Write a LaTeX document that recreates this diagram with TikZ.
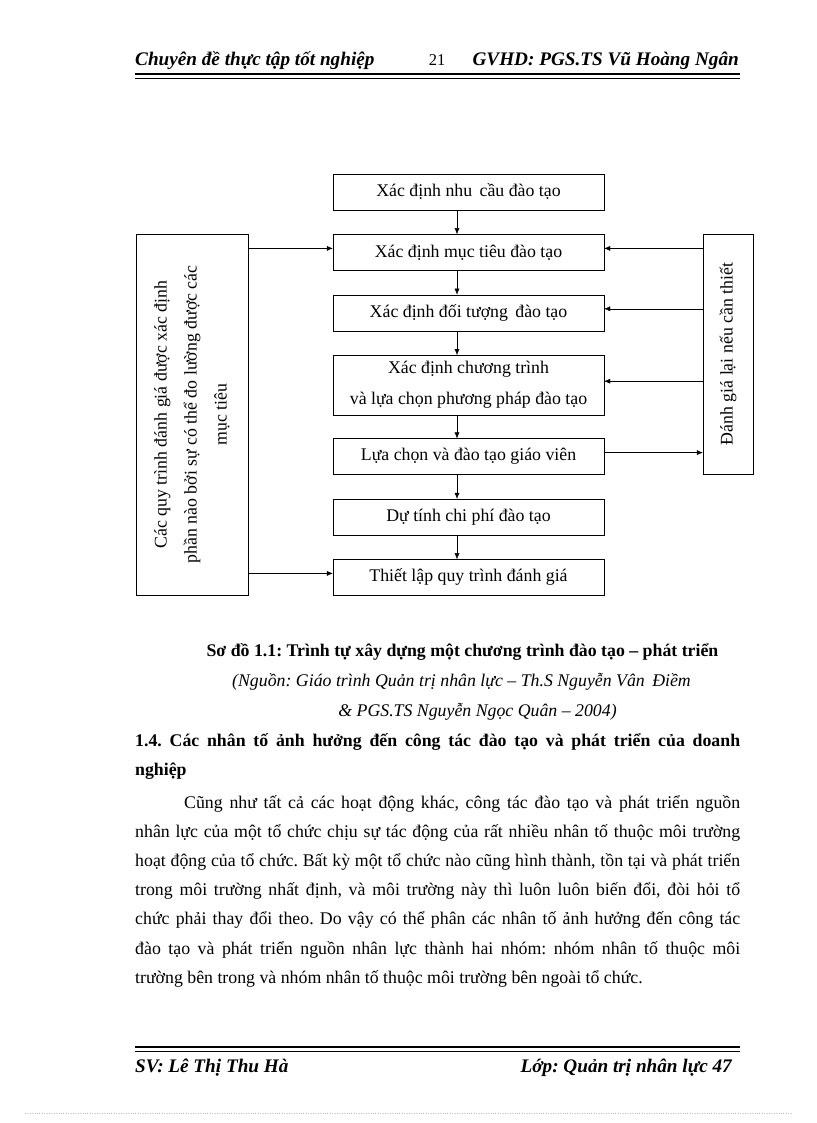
\documentclass[tikz,border=0pt]{standalone}
\usepackage{fontspec}
\setmainfont{Liberation Serif}
\usetikzlibrary{positioning,arrows.meta}
\frenchspacing
\newcommand{\boxWidth}{271pt}
\newcommand{\bodyFont}{\fontsize{17.8}{29.2}\selectfont}
\newcommand{\hdrFont}{\fontsize{19.2}{22}\selectfont\bfseries\itshape}

\begin{document}
\begin{tikzpicture}[x=1pt, y=-1pt, thin, >={Latex[length=6pt,width=5pt]},
    every node/.style={inner sep=0pt},
    stepbox/.style={draw, minimum width=\boxWidth, minimum height=36pt, inner sep=2pt, align=center, font=\fontsize{17.8}{31}\selectfont},
    sidebox/.style={draw, rotate=90, align=center, font=\fontsize{17.8}{30}\selectfont},
    hdrtext/.style={font=\hdrFont},
    rule/.style={line width=2.5pt},
    thinrule/.style={line width=0.8pt}]
  \fill[white] (0,0) rectangle (816,1123);
  \useasboundingbox (0,0) rectangle (816,1123);

  % header
  \node[hdrtext, anchor=base west] (hdrL) at (135,66) {Chuyên đề thực tập tốt nghiệp};
  \node[anchor=base, font=\fontsize{16.5}{18}\selectfont] (hdrN) at (437,66) {21};
  \node[hdrtext, anchor=base east] (hdrR) at (739,66) {GVHD: PGS.TS Vũ Hoàng Ngân};
  \draw[rule] (135,74) -- (740,74);
  \draw[thinrule] (135,78.5) -- (740,78.5);

  % steps
  \node[stepbox] (b1) at (468.5,192) {Xác định nhu\, cầu đào tạo};
  \node[stepbox, below=24pt of b1] (b2) {Xác định mục tiêu đào tạo};
  \node[stepbox, below=24pt of b2] (b3) {Xác định đối tượng\, đào tạo};
  \node[stepbox, minimum height=60pt, below=24pt of b3] (b4) {Xác định chương trình\\ và lựa chọn phương pháp đào tạo};
  \node[stepbox, below=23pt of b4] (b5) {Lựa chọn và đào tạo giáo viên};
  \node[stepbox, below=24pt of b5] (b6) {Dự tính chi phí đào tạo};
  \node[stepbox, below=24pt of b6] (b7) {Thiết lập quy trình đánh giá};

  % side boxes
  \node[sidebox, minimum width=361pt, minimum height=112pt] (eval) at (192,414.5) {Các quy trình đánh giá được xác định\\ phần nào bởi sự có thể đo lường được các\\ mục tiêu};
  \node[sidebox, minimum width=240pt, minimum height=50pt] (review) at (728,354) {Đánh giá lại nếu cần thiết};

  \foreach \a/\b in {b1/b2,b2/b3,b3/b4,b4/b5,b5/b6,b6/b7}
    \draw[->] ([xshift=-11.5pt]\a.south) -- ([xshift=-11.5pt]\b.north);
  \foreach \n in {b2,b7}
    \draw[->] ([yshift=4pt]\n.west -| eval.south) -- ([yshift=4pt]\n.west);
  \foreach \n in {b2,b3,b4}
    \draw[->] ([yshift=4pt]\n.east -| review.north) -- ([yshift=4pt]\n.east);
  \draw[->] ([yshift=4pt]b5.east) -- ([yshift=4pt]b5.east -| review.north);

  % caption
  \node[anchor=base, font=\fontsize{17.8}{20}\selectfont\bfseries] (cap) at (462.5,656) {Sơ đồ 1.1: Trình tự xây dựng một chương trình đào tạo – phát triển};
  \node[anchor=base, font=\fontsize{17.8}{20}\selectfont\itshape] (src1) at (461.5,686) {(Nguồn: Giáo trình Quản trị nhân lực – Th.S Nguyễn Vân\, Điềm};
  \node[anchor=base, font=\fontsize{17.8}{20}\selectfont\itshape] (src2) at (477.5,716) {\& PGS.TS Nguyễn Ngọc Quân – 2004)};

  % text
  \node[anchor=base west, text width=605pt, align=justify, font=\bodyFont\bfseries] (sec) at (135,746) {1.4. Các nhân tố ảnh hưởng đến công tác đào tạo và phát triển của doanh\linebreak nghiệp};
  \node[anchor=base west, text width=605pt, align=justify, font=\bodyFont] (para) at (135,808) {\hspace*{49pt}Cũng như tất cả các hoạt động khác, công tác đào tạo và phát triển nguồn\linebreak
    nhân lực của một tổ chức chịu sự tác động của rất nhiều nhân tố thuộc môi trường\linebreak
    hoạt động của tổ chức. Bất kỳ một tổ chức nào cũng hình thành, tồn tại và phát triển\linebreak
    trong môi trường nhất định, và môi trường này thì luôn luôn biến đổi, đòi hỏi tổ\linebreak
    chức phải thay đổi theo. Do vậy có thể phân các nhân tố ảnh hưởng đến công tác\linebreak
    đào tạo và phát triển nguồn nhân lực thành hai nhóm: nhóm nhân tố thuộc môi\linebreak
    trường bên trong và nhóm nhân tố thuộc môi trường bên ngoài tổ chức.};

  % footer
  \draw[rule] (135,1047) -- (740,1047);
  \draw[thinrule] (135,1051.5) -- (740,1051.5);
  \node[hdrtext, anchor=base west] (sv) at (135,1072) {SV: Lê Thị Thu Hà};
  \node[hdrtext, anchor=base east] (lop) at (732,1072) {Lớp: Quản trị nhân lực 47};
  \draw[gray!50, dotted] (25,1113) -- (791,1113);
\end{tikzpicture}
\end{document}
